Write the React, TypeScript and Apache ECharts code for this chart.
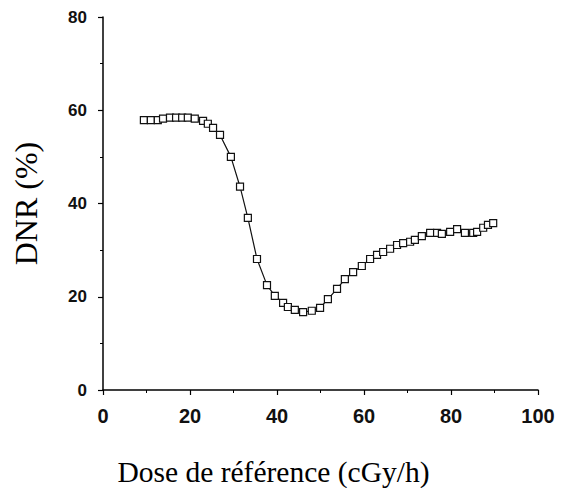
import React, { useEffect, useRef } from "react";
import * as echarts from "echarts";

const doseX: number[] = [
  9.4, 11.0, 12.6, 13.8, 15.4, 16.8, 18.2, 19.5, 21.1, 23.0,
  24.1, 25.3, 26.9, 29.4, 31.5, 33.3, 35.4, 37.7, 39.5, 41.4,
  42.5, 44.1, 46.0, 48.0, 49.9, 51.7, 53.8, 55.6, 57.5, 59.5,
  61.4, 63.0, 64.4, 66.0, 67.6, 69.0, 70.6, 71.7, 73.3, 75.2,
  76.8, 77.9, 79.8, 81.4, 83.2, 85.1, 86.0, 87.4, 88.5, 89.7,
];
const dnrY: number[] = [
  57.9, 57.9, 57.9, 58.2, 58.4, 58.4, 58.4, 58.4, 58.2, 57.7,
  57.1, 56.2, 54.7, 50.0, 43.6, 36.9, 28.1, 22.5, 20.2, 18.7,
  17.8, 17.2, 16.7, 17.0, 17.6, 19.5, 21.7, 23.8, 25.3, 26.6,
  28.1, 29.0, 29.6, 30.3, 31.1, 31.5, 31.8, 32.2, 33.0, 33.7,
  33.7, 33.5, 33.9, 34.5, 33.7, 33.7, 33.9, 34.8, 35.4, 35.8,
];
const xTicks: number[] = [0, 20, 40, 60, 80, 100];
const yTicks: number[] = [0, 20, 40, 60, 80];
const xTitle = "Dose de référence (cGy/h)";
const yTitle = "DNR (%)";

export default function App() {
  const ref = useRef<HTMLDivElement>(null);
  useEffect(() => {
    if (!ref.current) return;
    const chart = echarts.init(ref.current, null, { renderer: "svg" });
    const data = doseX.map((x, i) => [x, dnrY[i]]);
    chart.setOption({
      animation: false,
      backgroundColor: "#ffffff",
      grid: {
        left: 95,
        right: 25,
        top: 9,
        bottom: 98,
        containLabel: false,
        outerBoundsMode: "none",
      },
      xAxis: {
        type: "value",
        min: xTicks[0],
        max: xTicks[xTicks.length - 1],
        interval: 20,
        name: xTitle,
        nameLocation: "middle",
        nameGap: 67,
        nameTextStyle: {
          fontFamily: "Liberation Serif",
          fontSize: 29.5,
          color: "#000",
          padding: [0, 94, 0, 0],
        },
        axisLine: { show: true, lineStyle: { color: "#000", width: 1.5 } },
        axisTick: { show: true, length: 5, lineStyle: { color: "#000", width: 1.2 } },
        minorTick: { show: true, splitNumber: 2, length: 3, lineStyle: { color: "#000", width: 1 } },
        splitLine: { show: false },
        axisLabel: {
          margin: 16,
          fontFamily: "Liberation Sans",
          fontWeight: "bold",
          fontSize: 20,
          color: "#111",
        },
      },
      yAxis: {
        type: "value",
        min: yTicks[0],
        max: yTicks[yTicks.length - 1],
        interval: 20,
        name: yTitle,
        nameLocation: "middle",
        nameGap: 61,
        nameTextStyle: { fontFamily: "Liberation Serif", fontSize: 32, color: "#000" },
        axisLine: { show: true, lineStyle: { color: "#000", width: 1.5 } },
        axisTick: { show: true, length: 5, lineStyle: { color: "#000", width: 1.2 } },
        minorTick: { show: true, splitNumber: 2, length: 3, lineStyle: { color: "#000", width: 1 } },
        splitLine: { show: false },
        axisLabel: {
          margin: 16,
          fontFamily: "Liberation Sans",
          fontWeight: "bold",
          fontSize: 17,
          color: "#111",
        },
      },
      series: [
        {
          type: "line",
          data,
          symbol: "rect",
          symbolSize: 7,
          showAllSymbol: true,
          itemStyle: { color: "#ffffff", borderColor: "#111", borderWidth: 1.2 },
          lineStyle: { color: "#111", width: 1.2 },
        },
      ],
    });
    return () => chart.dispose();
  }, []);
  return <div ref={ref} style={{ width: 555, height: 480 }} />;
}
